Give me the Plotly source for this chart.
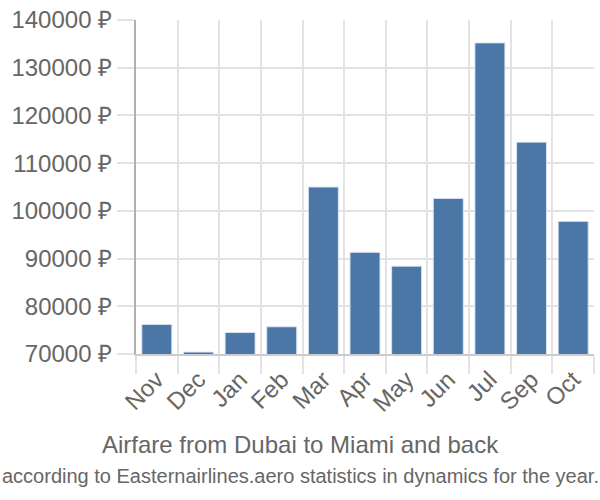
import plotly.graph_objects as go

months = ["Nov", "Dec", "Jan", "Feb", "Mar", "Apr", "May", "Jun", "Jul", "Sep", "Oct"]
prices = [76200, 70400, 74500, 75700, 105000, 91300, 88400, 102600, 135200, 114400, 97800]
y_ticks = [70000, 80000, 90000, 100000, 110000, 120000, 130000, 140000]
y_labels = [f"{v} ₽" for v in y_ticks]

fig = go.Figure(go.Bar(
    x=months, y=prices,
    marker=dict(color="#4b77a7", line=dict(color="rgba(220,230,245,0.9)", width=1)),
))

font = "Liberation Sans, Arial, sans-serif"
fig.update_layout(
    width=600, height=500,
    margin=dict(l=136, r=6, t=15, b=146),
    plot_bgcolor="white", paper_bgcolor="white",
    bargap=0.28,
    showlegend=False,
    font=dict(family=font, color="#666", size=24),
)
fig.update_xaxes(
    tickangle=-45, tickson="boundaries", showgrid=True, gridcolor="#e2e2e2", gridwidth=2,
    ticks="outside", ticklen=18, tickcolor="#e2e2e2", tickwidth=2,
    showline=True, linecolor="#cccccc", linewidth=2,
    tickfont=dict(size=24, color="#666"),
)
fig.update_yaxes(
    range=[70000, 140000], tickvals=y_ticks, ticktext=y_labels,
    showgrid=True, gridcolor="#e2e2e2", gridwidth=2,
    ticks="outside", ticklen=17, tickcolor="#e2e2e2", tickwidth=2,
    showline=True, linecolor="#b0b0b0", linewidth=2,
    tickfont=dict(size=24, color="#666"), zeroline=False,
)
cx = (300 - 136) / (600 - 136 - 6)
fig.add_annotation(text="Airfare from Dubai to Miami and back", xref="paper", yref="paper",
                   x=cx, y=-0.27, xanchor="center", yanchor="middle", showarrow=False,
                   font=dict(size=24, color="#666", family=font))
fig.add_annotation(text="according to Easternairlines.aero statistics in dynamics for the year.",
                   xref="paper", yref="paper", x=cx, y=-0.366, xanchor="center", yanchor="middle",
                   showarrow=False, font=dict(size=20, color="#666", family=font))
fig.write_html("out.html", config={"displayModeBar": False},
               post_script="document.body.style.margin='0';")
